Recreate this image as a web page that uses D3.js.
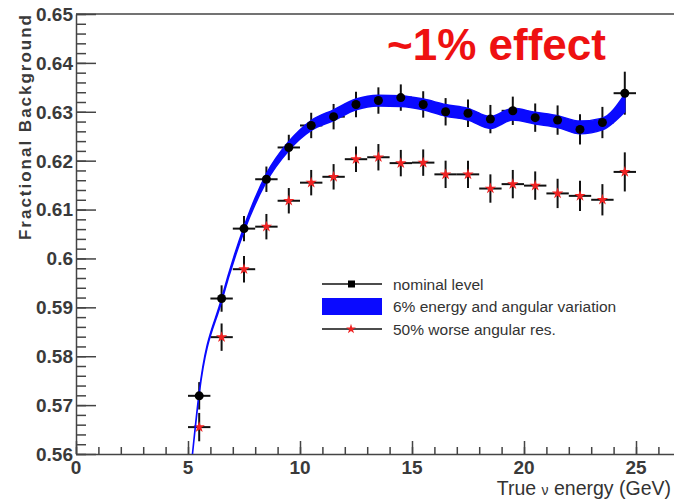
<!DOCTYPE html>
<html>
<head>
  <meta charset="UTF-8">
  <title>Fractional Background</title>
  <script src="https://d3js.org/d3.v7.min.js"></script>
  <style>
    body { margin: 0; background: #fff; font-family: "Liberation Sans", Arial, sans-serif; }
    svg { display: block; }
  </style>
</head>
<body>
<div id="chart"></div>
<script>
  // bin centres (GeV)
  const energy = [5.5, 6.5, 7.5, 8.5, 9.5, 10.5, 11.5, 12.5, 13.5, 14.5, 15.5, 16.5, 17.5, 18.5, 19.5, 20.5, 21.5, 22.5, 23.5, 24.5];
  const nominal = [0.5719, 0.5918, 0.6061, 0.6162, 0.6227, 0.6272, 0.6290, 0.6315, 0.6323, 0.6329, 0.6315, 0.6300, 0.6297, 0.6285, 0.6302, 0.6288, 0.6283, 0.6264, 0.6278, 0.6338];
  const nominalErr = [0.0028, 0.0027, 0.0026, 0.0026, 0.0026, 0.0026, 0.0026, 0.0026, 0.0027, 0.0027, 0.0027, 0.0028, 0.0028, 0.0029, 0.0029, 0.0029, 0.0030, 0.0031, 0.0032, 0.0044];
  const worseRes = [0.5655, 0.5839, 0.5978, 0.6065, 0.6118, 0.6155, 0.6167, 0.6203, 0.6207, 0.6195, 0.6196, 0.6172, 0.6172, 0.6143, 0.6152, 0.6149, 0.6133, 0.6128, 0.6120, 0.6177];
  const worseErr = [0.0029, 0.0028, 0.0027, 0.0026, 0.0026, 0.0026, 0.0026, 0.0026, 0.0027, 0.0027, 0.0027, 0.0028, 0.0028, 0.0029, 0.0029, 0.0029, 0.0030, 0.0031, 0.0032, 0.0040];

  // 6% energy / angular variation band
  const bandX = [5.2, 5.5, 6.5, 7.5, 8.5, 9.5, 10.5, 11.5, 12.5, 13.5, 14.5, 15.5, 16.5, 17.5, 18.5, 19.5, 20.5, 21.5, 22.5, 23.5, 24.5];
  const bandMid = [0.5600, 0.5725, 0.5915, 0.6060, 0.6165, 0.6230, 0.6272, 0.6293, 0.6315, 0.6323, 0.6322, 0.6315, 0.6303, 0.6295, 0.6278, 0.6295, 0.6287, 0.6280, 0.6268, 0.6275, 0.6318];
  const bandHalf = [0.0001, 0.0002, 0.0003, 0.0005, 0.0008, 0.0009, 0.0010, 0.0011, 0.0011, 0.0011, 0.0011, 0.0011, 0.0012, 0.0012, 0.0012, 0.0012, 0.0012, 0.0012, 0.0013, 0.0012, 0.0018];

  const xTicks = [0, 5, 10, 15, 20, 25];
  const yTicks = [0.56, 0.57, 0.58, 0.59, 0.6, 0.61, 0.62, 0.63, 0.64, 0.65];
  const legendLabels = ["nominal level", "6% energy and angular variation", "50% worse angular res."];

  const W = 674, H = 502;
  const padL = 76, padT = 14, axisY = 454;

  const svg = d3.select("#chart").append("svg")
    .attr("width", W).attr("height", H);

  const x = d3.scaleLinear().domain([0, 27]).range([padL, padL + 27 * 22.4]);
  const y = d3.scaleLinear().domain([0.56, 0.65]).range([axisY, padT]);

  svg.append("clipPath").attr("id", "plot")
    .append("rect").attr("x", padL).attr("y", padT)
    .attr("width", W - padL).attr("height", axisY - padT);

  // frame
  const axisCol = "#444";
  svg.append("line").attr("x1", padL).attr("x2", W).attr("y1", padT).attr("y2", padT)
    .attr("stroke", axisCol).attr("stroke-width", 1.5);

  // y axis with ticks pointing inward
  const yMinor = d3.range(0.56, 0.6501, 0.002);
  svg.append("g").attr("transform", `translate(${padL},0)`)
    .call(d3.axisRight(y).tickValues(yMinor).tickSize(10).tickSizeOuter(0).tickFormat(""))
    .call(g => g.selectAll("line, path").attr("stroke", axisCol).attr("stroke-width", 1.5));
  svg.append("g").attr("transform", `translate(${padL},0)`)
    .call(d3.axisRight(y).tickValues(yTicks).tickSize(20).tickFormat(""))
    .call(g => g.select(".domain").remove())
    .call(g => g.selectAll("line").attr("stroke", axisCol).attr("stroke-width", 1.5));

  svg.append("g").selectAll("text").data(yTicks).join("text")
    .attr("x", 73).attr("y", d => y(d)).attr("dy", "0.36em")
    .attr("text-anchor", "end")
    .attr("font-size", 19).attr("font-weight", "bold").attr("fill", "#3a3a3a")
    .text(d => d === 0.6 ? "0.6" : d3.format(".2f")(d));

  // x axis with ticks pointing up
  const xMinor = d3.range(0, 27.01, 1);
  svg.append("g").attr("transform", `translate(0,${axisY})`)
    .call(d3.axisTop(x).tickValues(xMinor).tickSize(7).tickSizeOuter(0).tickFormat(""))
    .call(g => g.selectAll("line, path").attr("stroke", axisCol).attr("stroke-width", 1.5));
  svg.append("g").attr("transform", `translate(0,${axisY})`)
    .call(d3.axisTop(x).tickValues(xTicks).tickSize(13).tickFormat(""))
    .call(g => g.select(".domain").remove())
    .call(g => g.selectAll("line").attr("stroke", axisCol).attr("stroke-width", 1.5));

  svg.append("g").selectAll("text").data(xTicks).join("text")
    .attr("x", d => x(d)).attr("y", 474)
    .attr("text-anchor", "middle")
    .attr("font-size", 19).attr("font-weight", "bold").attr("fill", "#3a3a3a")
    .text(d => d);

  // axis titles
  svg.append("text")
    .attr("transform", "translate(31,240) rotate(-90)")
    .attr("font-size", 17).attr("font-weight", "bold").attr("fill", "#3a3a3a")
    .attr("textLength", 225).attr("lengthAdjust", "spacing")
    .text("Fractional Background");

  const xt = svg.append("text").attr("x", 671).attr("y", 495)
    .attr("text-anchor", "end")
    .attr("font-size", 19.5).attr("fill", "#333");
  xt.append("tspan").text("True ");
  xt.append("tspan").attr("font-size", 14).text("ν");
  xt.append("tspan").text(" energy (GeV)");

  const plot = svg.append("g").attr("clip-path", "url(#plot)");

  // error bars
  function drawBars(vals, errs, cls) {
    const g = plot.append("g").attr("class", cls);
    const pts = energy.map((e, i) => ({ e, v: vals[i], err: errs[i] }));
    g.selectAll("line.h").data(pts).join("line").attr("class", "h")
      .attr("x1", d => x(d.e - 0.5)).attr("x2", d => x(d.e + 0.5))
      .attr("y1", d => y(d.v)).attr("y2", d => y(d.v))
      .attr("stroke", "#111").attr("stroke-width", 2);
    g.selectAll("line.v").data(pts).join("line").attr("class", "v")
      .attr("x1", d => x(d.e)).attr("x2", d => x(d.e))
      .attr("y1", d => y(d.v - d.err)).attr("y2", d => y(d.v + d.err))
      .attr("stroke", "#111").attr("stroke-width", 2);
    return pts;
  }

  const redPts = drawBars(worseRes, worseErr, "worse");
  plot.append("g").selectAll("path").data(redPts).join("path")
    .attr("transform", d => `translate(${x(d.e)},${y(d.v)})`)
    .attr("d", d3.symbol(d3.symbolStar, 40))
    .attr("fill", "#ee2222");

  const blkPts = drawBars(nominal, nominalErr, "nominal");

  // band over the nominal bars
  const bandData = bandX.map((v, i) => ({ x: v, lo: bandMid[i] - bandHalf[i], hi: bandMid[i] + bandHalf[i] }));
  plot.append("path").datum(bandData)
    .attr("d", d3.area().curve(d3.curveMonotoneX)
      .x(d => x(d.x)).y0(d => y(d.lo)).y1(d => y(d.hi)))
    .attr("fill", "#0a0aff").attr("stroke", "#0a0aff").attr("stroke-width", 1.5);

  plot.append("g").selectAll("circle").data(blkPts).join("circle")
    .attr("cx", d => x(d.e)).attr("cy", d => y(d.v)).attr("r", 4.5)
    .attr("fill", "#000");

  // annotation
  svg.append("text").attr("x", 387).attr("y", 60)
    .attr("font-size", 44).attr("font-weight", "bold").attr("fill", "#ee1111")
    .text("~1% effect");

  // legend
  const leg = svg.append("g");
  const rows = [284, 306.5, 329];
  leg.append("line").attr("x1", 322).attr("x2", 382).attr("y1", rows[0]).attr("y2", rows[0])
    .attr("stroke", "#111").attr("stroke-width", 1.5);
  leg.append("rect").attr("x", 348).attr("y", rows[0] - 3.5).attr("width", 7).attr("height", 7).attr("fill", "#000");
  leg.append("rect").attr("x", 322).attr("y", rows[1] - 8.5).attr("width", 60).attr("height", 17).attr("fill", "#0a0aff");
  leg.append("line").attr("x1", 322).attr("x2", 382).attr("y1", rows[2]).attr("y2", rows[2])
    .attr("stroke", "#111").attr("stroke-width", 1.5);
  leg.append("path").attr("transform", `translate(351,${rows[2]})`)
    .attr("d", d3.symbol(d3.symbolStar, 30)).attr("fill", "#ee2222");
  leg.selectAll("text").data(legendLabels).join("text")
    .attr("x", 393).attr("y", (d, i) => rows[i]).attr("dy", "0.36em")
    .attr("font-size", 15.5).attr("fill", "#333")
    .text(d => d);
</script>
</body>
</html>
